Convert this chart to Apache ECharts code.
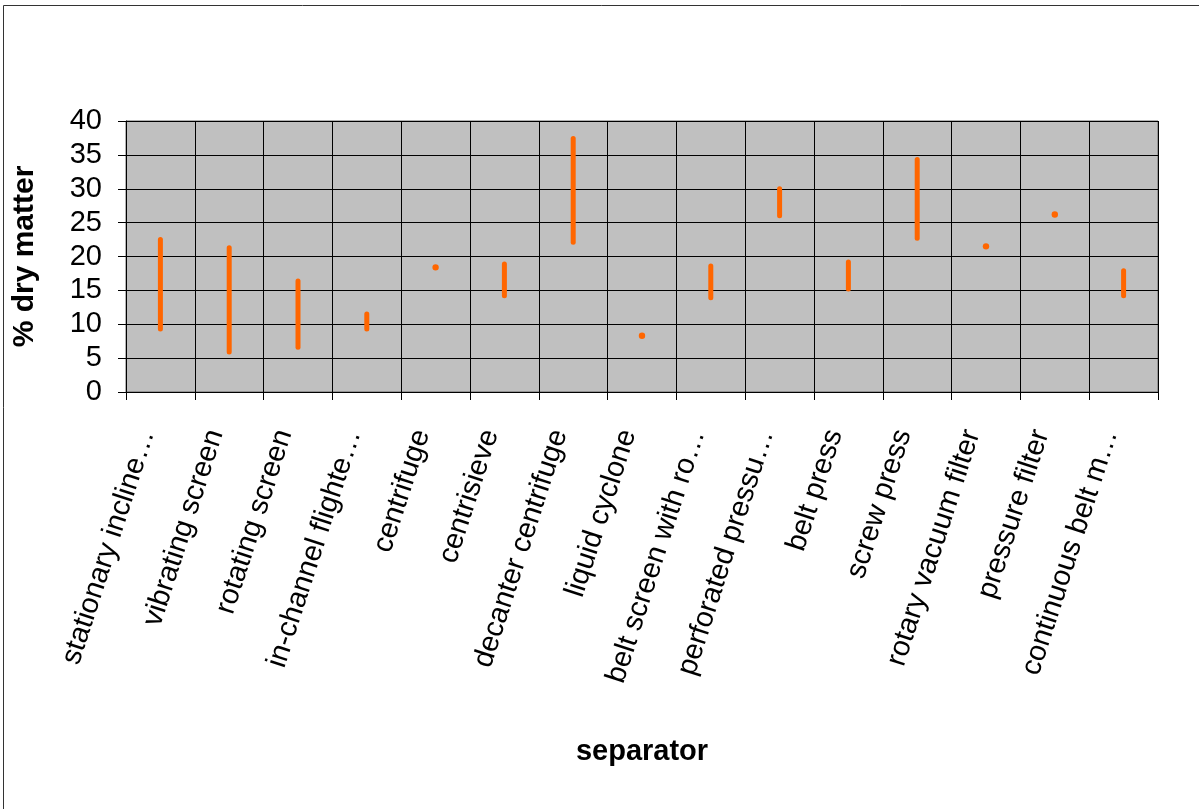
<!DOCTYPE html>
<html><head><meta charset="utf-8">
<script src="https://cdn.jsdelivr.net/npm/echarts@6/dist/echarts.min.js"></script>
<style>html,body{margin:0;padding:0;background:#fff}#c{width:1199px;height:809px}</style>
</head><body><div id="c"></div>
<script>
const categories = ["stationary incline…","vibrating screen","rotating screen","in-channel flighte…","centrifuge","centrisieve","decanter centrifuge","liquid cyclone","belt screen with ro…","perforated pressu…","belt press","screw press","rotary vacuum filter","pressure filter","continuous belt m…"];
const lowValues  = [9.3, 5.9, 6.6, 9.3, 18.4, 14.2, 22.1, 8.3, 13.9, 26.0, 15.2, 22.7, 21.5, 26.2, 14.2];
const highValues = [22.5, 21.3, 16.4, 11.5, 18.4, 18.9, 37.4, 8.3, 18.6, 30.0, 19.2, 34.3, 21.5, 26.2, 17.9];
const yTicks = {min: 0, max: 40, interval: 5};

const data = categories.map((c, i) => [i, lowValues[i], highValues[i]]);
const chart = echarts.init(document.getElementById('c'));
const font = '"Liberation Sans", Arial, sans-serif';
chart.setOption({
  animation: false,
  graphic: [{type:'rect', shape:{x:3.5,y:5.5,width:1210,height:820}, style:{fill:null, stroke:'#333', lineWidth:1}, z:-10}],
  grid: {left:126, right:41, top:121, bottom:417, show:true, backgroundColor:'#C0C0C0', borderColor:'#666', borderWidth:1},
  xAxis: {
    type:'category', data:categories, boundaryGap:true,
    name:'separator', nameLocation:'middle', nameGap:345,
    nameTextStyle:{fontFamily:font, fontWeight:'bold', fontSize:29, color:'#000'},
    axisLine:{show:true, lineStyle:{color:'#000', width:1}},
    axisTick:{show:true, length:8, lineStyle:{color:'#000'}},
    splitLine:{show:true, lineStyle:{color:'#000', width:1}},
    axisLabel:{interval:0, rotate:72, margin:43, verticalAlign:'bottom', fontFamily:font, fontSize:29, color:'#000'}
  },
  yAxis: {
    type:'value', min:yTicks.min, max:yTicks.max, interval:yTicks.interval,
    name:'% dry matter', nameLocation:'middle', nameGap:86, nameRotate:90,
    nameTextStyle:{fontFamily:font, fontWeight:'bold', fontSize:30, color:'#000'},
    axisLine:{show:true, lineStyle:{color:'#000', width:1}},
    axisTick:{show:true, length:8, lineStyle:{color:'#000'}},
    splitLine:{show:true, lineStyle:{color:'#000', width:1}},
    axisLabel:{margin:24, fontFamily:font, fontSize:29, color:'#000'}
  },
  series: [{
    type:'custom', data:data,
    encode:{x:0, y:[1,2]},
    renderItem: function(params, api){
      const x = api.value(0);
      const p1 = api.coord([x, api.value(1)]);
      const p2 = api.coord([x, api.value(2)]);
      if (Math.abs(p1[1]-p2[1]) < 0.5) {
        return {type:'circle', shape:{cx:p1[0], cy:p1[1], r:3.2}, style:{fill:'#FF6600'}};
      }
      return {type:'line', shape:{x1:p1[0], y1:p1[1], x2:p2[0], y2:p2[1]}, style:{stroke:'#FF6600', lineWidth:5, lineCap:'round'}};
    }
  }]
});
</script></body></html>
